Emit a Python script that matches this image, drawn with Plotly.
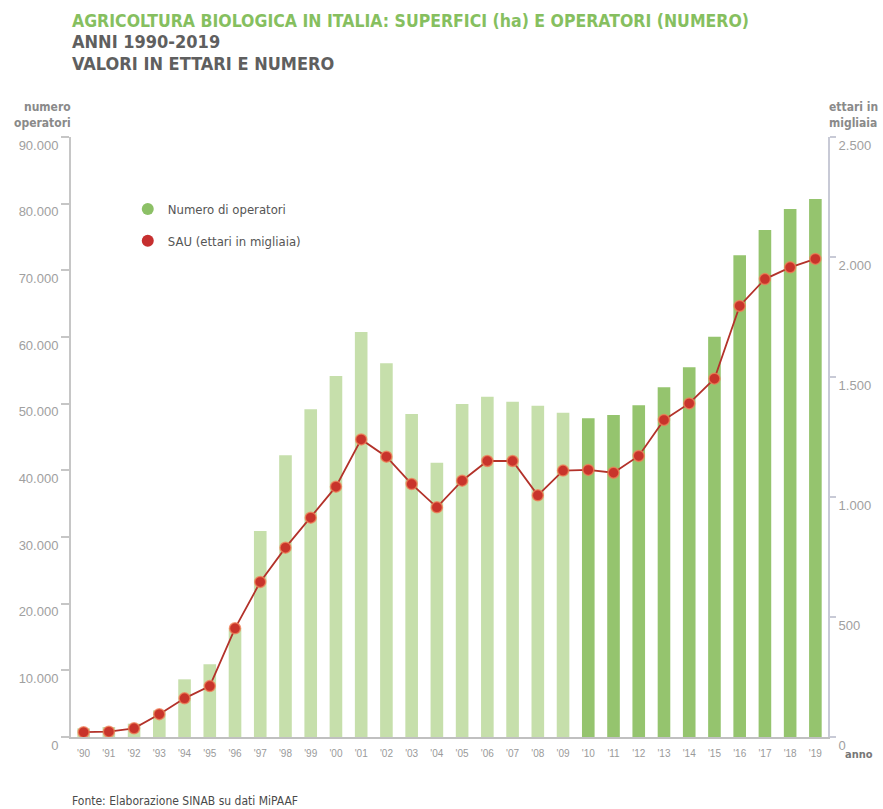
import plotly.graph_objects as go

# ---------------- data ----------------
years = list(range(1990, 2020))
year_labels = ["'90", "'91", "'92", "'93", "'94", "'95", "'96", "'97", "'98", "'99",
               "'00", "'01", "'02", "'03", "'04", "'05", "'06", "'07", "'08", "'09",
               "'10", "'11", "'12", "'13", "'14", "'15", "'16", "'17", "'18", "'19"]
operatori = [1300, 1500, 2000, 4000, 8650, 10900, 16300, 30900, 42250, 49150,
             54150, 60750, 56050, 48450, 41150, 49950, 51050, 50300, 49700, 48650,
             47800, 48300, 49750, 52450, 55450, 60050, 72250, 76050, 79200, 80700]
sau = [20, 22, 36, 95, 161, 212, 453, 646, 789, 914,
       1043, 1240, 1168, 1054, 957, 1068, 1150, 1150, 1007, 1110,
       1113, 1101, 1171, 1321, 1390, 1493, 1796, 1908, 1957, 1992]
left_ticks = [0, 10000, 20000, 30000, 40000, 50000, 60000, 70000, 80000, 90000]
right_ticks = [0, 500, 1000, 1500, 2000, 2500]

LIGHT = "#c6dfab"
DARK = "#95c46e"
RED = "#c8342b"
bar_colors = [DARK if y >= 2010 else LIGHT for y in years]

W, H = 883, 809
L, R, T, B = 71, 831, 137, 737


def px(xp):
    return (xp - L) / (R - L)


def py(yp):
    return (B - yp) / (B - T)


COND = "Liberation Sans Narrow, DejaVu Sans Condensed, Arial Narrow, sans-serif"
LIGHTF = "Liberation Sans, Arial, sans-serif"

fig = go.Figure()
fig.add_trace(go.Bar(x=years, y=operatori, marker=dict(color=bar_colors, line=dict(width=0)),
                     yaxis="y", showlegend=False, hoverinfo="x+y"))
fig.add_trace(go.Scatter(x=years, y=sau, yaxis="y2", mode="lines+markers",
                         line=dict(color="#b3322a", width=1.8),
                         marker=dict(size=11, color=RED, line=dict(color="rgba(240,130,90,0.75)", width=1.5)),
                         showlegend=False))
# legend proxies
fig.add_trace(go.Scatter(x=[None], y=[None], mode="markers", name="Numero di operatori",
                         marker=dict(size=12, color="#8cc066"), legendgroup="a"))
fig.add_trace(go.Scatter(x=[None], y=[None], mode="markers", name="SAU (ettari in migliaia)",
                         marker=dict(size=12, color="#c62f2f"), legendgroup="b", yaxis="y2"))

axis_gray = "#c6c6c6"
right_gray = "#c8cad6"
tick_font = dict(family=LIGHTF, size=13, color="#a0a0a0")

fig.update_layout(
    width=W, height=H,
    margin=dict(l=L, r=W - R, t=T, b=H - B),
    paper_bgcolor="white", plot_bgcolor="white",
    separators=",.",
    bargap=0.5,
    xaxis=dict(range=[1989.5, 2019.5], tickvals=years, ticktext=year_labels,
               showgrid=False, zeroline=False, showline=True, linecolor="#c0c0c0", linewidth=1.5,
               ticks="", ticklabelstandoff=6, tickfont=dict(family=LIGHTF, size=10, color="#9a9a9a")),
    yaxis=dict(range=[0, 90000], tickvals=left_ticks, tickformat=",d",
               showgrid=False, zeroline=False, showline=True, linecolor=axis_gray, linewidth=2,
               ticks="outside", ticklen=8, tickwidth=1.5, tickcolor=axis_gray,
               tickfont=tick_font, ticklabelshift=8),
    yaxis2=dict(range=[0, 2500], tickvals=right_ticks, tickformat=",d", overlaying="y", side="right",
                showgrid=False, zeroline=False, showline=True, linecolor=right_gray, linewidth=2,
                ticks="outside", ticklen=6, tickwidth=1.5, tickcolor=right_gray,
                tickfont=tick_font, ticklabelshift=8),
    yaxis3=dict(range=[0, 90000], tickvals=left_ticks, overlaying="y", side="left", anchor="x",
                showgrid=False, zeroline=False, showline=False, showticklabels=False,
                ticks="inside", ticklen=8, tickwidth=1.5, tickcolor=axis_gray),
    yaxis4=dict(range=[0, 2500], tickvals=right_ticks, overlaying="y", side="right", anchor="x",
                showgrid=False, zeroline=False, showline=False, showticklabels=False,
                ticks="inside", ticklen=5, tickwidth=1.5, tickcolor=right_gray),
    legend=dict(x=px(128), y=py(194), xanchor="left", yanchor="top", bgcolor="rgba(0,0,0,0)",
                font=dict(family=COND, size=13, color="#555555"), tracegroupgap=12,
                itemwidth=30),
    font=dict(family=COND),
)

ann = []
ann.append(dict(text="<b>AGRICOLTURA BIOLOGICA IN ITALIA: SUPERFICI (ha) E OPERATORI (NUMERO)</b>",
                x=px(70), y=py(21), xanchor="left", yanchor="middle",
                font=dict(family=COND, size=17.5, color="#86bf5f")))
ann.append(dict(text="<b>ANNI 1990-2019</b>", x=px(70), y=py(42), xanchor="left", yanchor="middle",
                font=dict(family=COND, size=18, color="#5f5f5f")))
ann.append(dict(text="<b>VALORI IN ETTARI E NUMERO</b>", x=px(70), y=py(63), xanchor="left", yanchor="middle",
                font=dict(family=COND, size=18, color="#5f5f5f")))
ann.append(dict(text="<b>numero<br>operatori</b>", x=px(73), y=py(115), xanchor="right", yanchor="middle",
                align="right", font=dict(family=COND, size=12, color="#8a8a8a")))
ann.append(dict(text="<b>ettari in<br>migliaia</b>", x=px(830), y=py(115), xanchor="left", yanchor="middle",
                align="left", font=dict(family=COND, size=12, color="#8a8a8a")))
ann.append(dict(text="<b>anno</b>", x=px(846), y=py(754), xanchor="left", yanchor="middle",
                font=dict(family=COND, size=11, color="#777777")))
ann.append(dict(text="Fonte: Elaborazione SINAB su dati MiPAAF", x=px(70), y=py(801), xanchor="left",
                yanchor="middle", font=dict(family=COND, size=12, color="#4a4a4a")))
for a in ann:
    a.update(xref="paper", yref="paper", showarrow=False)
fig.update_layout(annotations=ann)

fig.write_html("out.html", config={"displayModeBar": False},
               post_script="document.body.style.margin='0';")
